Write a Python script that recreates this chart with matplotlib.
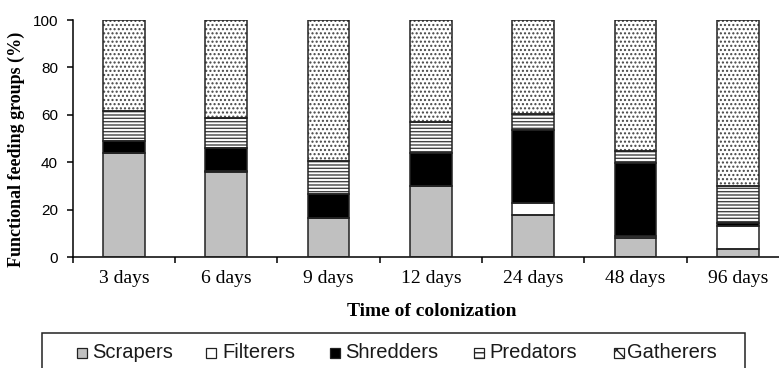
import matplotlib
matplotlib.use("Agg")
import matplotlib.pyplot as plt
import matplotlib.patches as mpatches
import numpy as np

categories = ["3 days", "6 days", "9 days", "12 days", "24 days", "48 days", "96 days"]
scrapers  = [44.1, 35.8, 16.4, 30.0, 17.8, 8.3, 3.4]
filterers = [0.0, 0.7, 0.0, 0.0, 5.2, 0.7, 9.9]
shredders = [5.0, 9.7, 10.1, 13.8, 30.6, 30.6, 1.3]
predators = [12.6, 12.4, 14.1, 13.1, 6.8, 5.3, 15.6]
gatherers = [100 - (a + b + c + d) for a, b, c, d in zip(scrapers, filterers, shredders, predators)]
series_names = ["Scrapers", "Filterers", "Shredders", "Predators", "Gatherers"]
yticks = [0, 20, 40, 60, 80, 100]

W, H = 779, 368
fig = plt.figure(figsize=(W / 100, H / 100), dpi=100)
ax = fig.add_axes([72.7 / W, 1 - 257.3 / H, (789 - 72.7) / W, (257.3 - 20) / H])

plt.rcParams["hatch.linewidth"] = 1.0
x = np.arange(len(categories))
w = 0.41
styles = [
    dict(color="#c0c0c0", hatch=None, lhatch=None),
    dict(color="white", hatch=None, lhatch=None),
    dict(color="black", hatch=None, lhatch=None),
    dict(color="white", hatch="-----", lhatch="---"),
    dict(color="white", hatch="....", lhatch="xx"),
]
data = [scrapers, filterers, shredders, predators, gatherers]
bottom = np.zeros(len(categories))
for vals, st in zip(data, styles):
    vals = np.array(vals)
    ax.bar(x, vals, w, bottom=bottom, color=st["color"], hatch=st["hatch"],
           edgecolor="#444444", linewidth=0, zorder=2)
    ax.bar(x, vals, w, bottom=bottom, fill=False, edgecolor="#222222", linewidth=1.1, zorder=3)
    bottom += vals

ax.set_xlim(-0.5, len(categories) - 0.5)
ax.set_ylim(0, 100)
ax.spines["top"].set_visible(False)
ax.spines["right"].set_visible(False)
ax.spines["left"].set_linewidth(1.1)
ax.spines["bottom"].set_linewidth(1.1)

ax.set_xticks(np.arange(-0.5, len(categories), 1.0))
ax.set_xticklabels([])
ax.set_xticks(x, minor=True)
ax.set_xticklabels(categories, minor=True, fontfamily="Liberation Serif", fontsize=14)
ax.tick_params(axis="x", which="minor", length=0, pad=9)
ax.tick_params(axis="x", which="major", length=4, direction="out", width=1.1)
ax.set_yticks(yticks)
ax.set_yticklabels([str(v) for v in yticks], fontfamily="Liberation Sans", fontsize=11)
ax.tick_params(axis="y", length=4, direction="out", pad=6.5, width=1.1)

ax.set_xlabel("Time of colonization", fontfamily="Liberation Serif", fontweight="bold",
              fontsize=14)
ax.xaxis.set_label_coords((431.5 - 72.7) / (789 - 72.7), (257.3 - 311) / (257.3 - 20))
ax.xaxis.label.set_va("center")
fig.text(16 / W, 1 - 149 / H, "Functional feeding groups (%)", rotation=90,
         fontfamily="Liberation Serif", fontweight="bold", fontsize=13,
         ha="center", va="center")

# legend frame and entries (placed to match the reference layout)
frame = mpatches.Rectangle((41.7 / W, -0.05), (745 - 41.7) / W, 1 - 333 / H + 0.05,
                           transform=fig.transFigure, facecolor="white",
                           edgecolor="#222222", linewidth=1.1, clip_on=False)
fig.patches.append(frame)
handle_x = [77, 206, 330, 474, 614]
text_x = [92, 222, 345, 489, 627]
for name, st, hx, tx in zip(series_names, styles, handle_x, text_x):
    r = mpatches.Rectangle((hx / W, 1 - 357.5 / H), 10 / W, 10 / H,
                           transform=fig.transFigure, facecolor=st["color"],
                           hatch=st["lhatch"], edgecolor="#222222", linewidth=0.9)
    fig.patches.append(r)
    fig.text(tx / W, 1 - 357.5 / H, name, fontfamily="Liberation Sans", fontsize=14.5,
             ha="left", va="baseline", color="#1a1a1a")

fig.savefig("out.png", dpi=100)
